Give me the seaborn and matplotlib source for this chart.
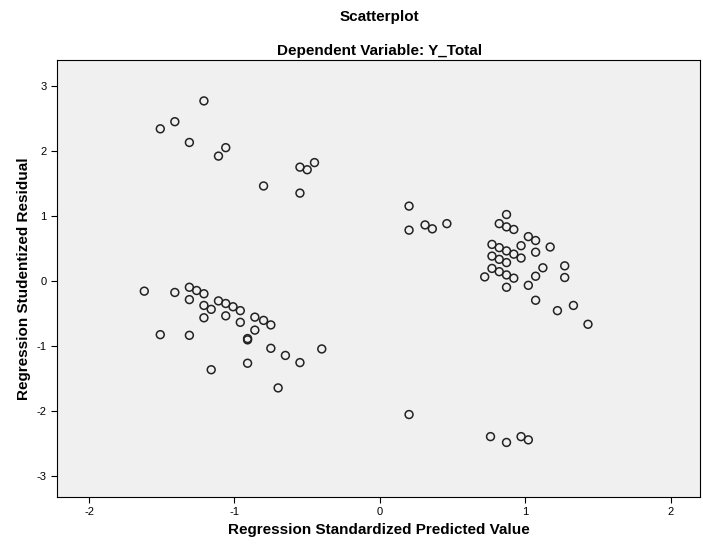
import matplotlib
matplotlib.use("Agg")
import matplotlib.pyplot as plt
import seaborn as sns
import pandas as pd

# predicted (x) and studentized residual (y)
pred_x = [-1.21, -1.41, -1.51, -1.31, -1.06, -1.11, -0.55, -0.50, -0.45, -0.80, -0.55,
          -1.62, -1.41, -1.31, -1.26, -1.21, -1.31, -1.21, -1.16, -1.11, -1.06, -1.01, -0.96,
          -1.21, -1.06, -0.96, -0.86, -0.80, -0.75, -0.86, -0.91, -0.91, -1.51, -1.31, -0.75,
          -0.65, -0.55, -0.40, -0.91, -1.16, -0.70,
          0.46, 0.87, 0.82, 0.87, 0.92, 1.02, 1.07, 1.17, 0.77, 0.82, 0.87, 0.92, 0.97, 0.97,
          1.07, 0.77, 0.82, 0.87, 0.77, 0.82, 0.87, 0.92, 0.72, 0.87, 1.12, 1.07, 1.02, 1.27,
          1.27, 1.07, 1.22, 1.33, 1.43,
          0.20, 0.20, 0.31, 0.36, 0.20, 0.76, 0.87, 0.97, 1.02]
resid_y = [2.77, 2.45, 2.34, 2.13, 2.05, 1.92, 1.75, 1.71, 1.82, 1.46, 1.35,
           -0.16, -0.18, -0.10, -0.15, -0.20, -0.29, -0.38, -0.44, -0.31, -0.35, -0.40, -0.46,
           -0.57, -0.54, -0.64, -0.56, -0.61, -0.68, -0.76, -0.89, -0.91, -0.83, -0.84, -1.04,
           -1.15, -1.26, -1.05, -1.27, -1.37, -1.65,
           0.88, 1.02, 0.88, 0.83, 0.79, 0.68, 0.62, 0.52, 0.56, 0.51, 0.46, 0.41, 0.54, 0.35,
           0.44, 0.38, 0.33, 0.28, 0.19, 0.14, 0.09, 0.04, 0.06, -0.10, 0.20, 0.07, -0.07, 0.23,
           0.05, -0.30, -0.46, -0.38, -0.67,
           1.15, 0.78, 0.86, 0.80, -2.06, -2.40, -2.49, -2.40, -2.45]

df = pd.DataFrame({"pred": pred_x, "resid": resid_y})

sns.set_style("ticks")
plt.rcParams['font.family'] = ['Liberation Sans', 'DejaVu Sans']
plt.rcParams['axes.unicode_minus'] = False
plt.rcParams['text.color'] = 'black'
plt.rcParams['axes.labelcolor'] = 'black'
plt.rcParams['xtick.color'] = 'black'
plt.rcParams['ytick.color'] = 'black'
fig = plt.figure(figsize=(7.03, 5.53), dpi=100)
ax = fig.add_axes([57 / 703, 56 / 553, 643 / 703, 437 / 553])
ax.set_facecolor("#F0F0F0")

sns.scatterplot(data=df, x="pred", y="resid", ax=ax, s=32, facecolor="none",
                edgecolor="#222222", linewidth=1.1, marker="o")

ax.set_xlim(-2.22, 2.2)
ax.set_ylim(-3.33, 3.4)
ax.set_xticks([-2, -1, 0, 1, 2])
ax.set_yticks([-3, -2, -1, 0, 1, 2, 3])
ax.tick_params(labelsize=8, length=4)
for s in ax.spines.values():
    s.set_color("black")
    s.set_linewidth(0.8)
ax.set_xlabel("Regression Standardized Predicted Value", fontsize=11, fontweight="bold")
ax.set_ylabel("Regression Studentized Residual", fontsize=11, fontweight="bold")
fig.text(0.54, 0.962, "Scatterplot", ha="center", fontsize=11, fontweight="bold")
fig.text(0.54, 0.9, "Dependent Variable: Y_Total", ha="center", fontsize=11, fontweight="bold")

fig.savefig("out.png", dpi=100)
